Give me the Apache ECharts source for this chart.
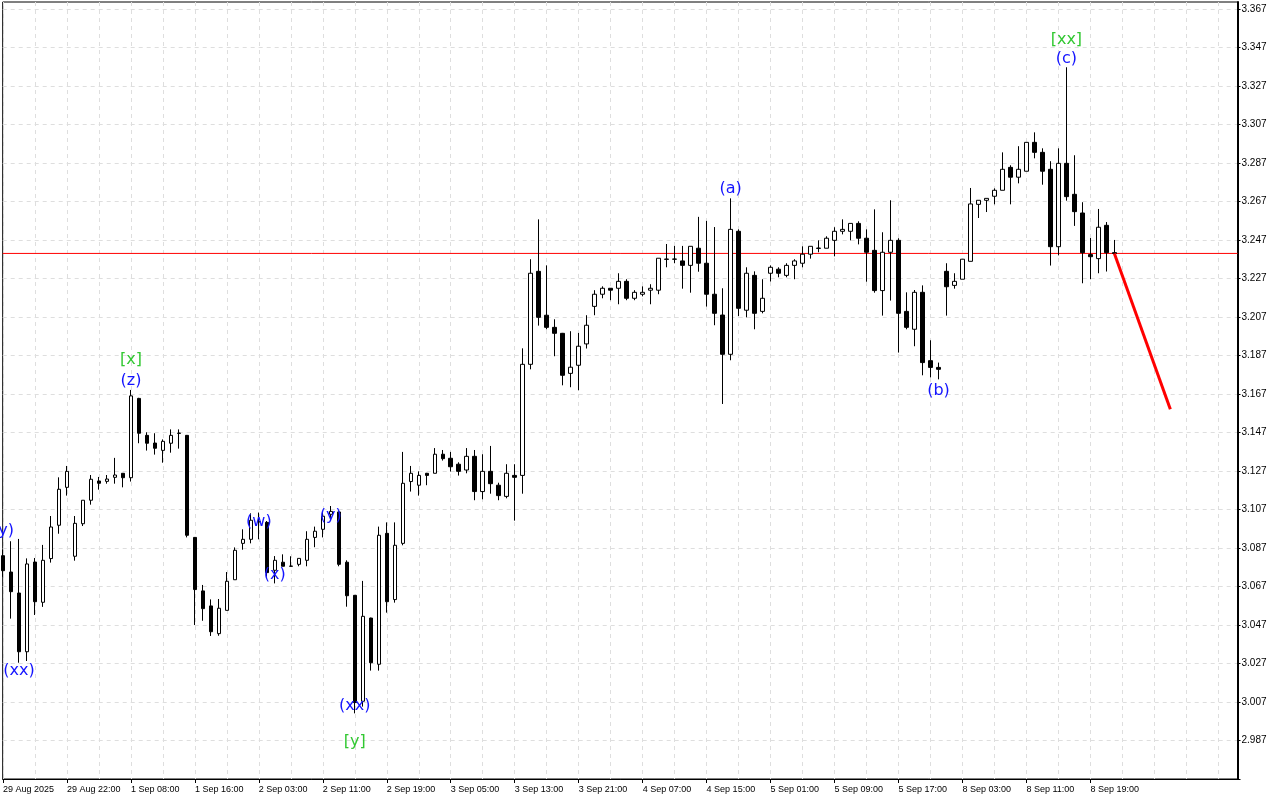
<!DOCTYPE html>
<html><head><meta charset="utf-8">
<script src="https://cdn.jsdelivr.net/npm/echarts@6/dist/echarts.min.js"></script>
<style>html,body{margin:0;padding:0;background:#fff}#c{width:1280px;height:800px}</style>
</head><body><div id="c"></div>
<script>
const openP = [3.0830,3.0745,3.0636,3.0331,3.0797,3.0588,3.0815,3.0988,3.1185,3.0827,
3.0996,3.1118,3.1218,3.1216,3.1237,3.1258,3.1235,3.1647,3.1455,3.1415,
3.1377,3.1414,3.1465,3.1455,3.0925,3.0647,3.0569,3.0425,3.0546,3.0705,
3.0894,3.0915,3.1005,3.1003,3.0754,3.0796,3.0776,3.0785,3.0806,3.0925,
3.0967,3.1045,3.1057,3.0796,3.0624,3.0074,3.0506,3.0266,3.0946,3.0602,
3.0894,3.1215,3.1196,3.1258,3.1258,3.1357,3.1336,3.1305,3.1275,3.1346,
3.1163,3.1268,3.1196,3.1138,3.1247,3.1247,3.1824,3.2307,3.2079,3.2016,
3.1985,3.1777,3.1819,3.1930,3.2125,3.2188,3.2219,3.2219,3.2255,3.2167,
3.2188,3.2209,3.2209,3.2369,3.2371,3.2361,3.2338,3.2427,3.2349,3.2188,
3.2080,3.1876,3.2515,3.2105,3.2286,3.2099,3.2297,3.2318,3.2286,3.2338,
3.2349,3.2396,3.2426,3.2427,3.2468,3.2515,3.2515,3.2556,3.2479,3.2416,
3.2207,3.2406,3.2468,3.2099,3.2006,3.2198,3.1843,3.1808,3.2307,3.2234,
3.2266,3.2359,3.2655,3.2676,3.2697,3.2728,3.2847,3.2796,3.2827,3.2977,
3.2925,3.2837,3.2435,3.2868,3.2707,3.2610,3.2394,3.2373,3.2546,3.2404];
const highP = [3.0860,3.0905,3.0917,3.0816,3.0818,3.0886,3.1036,3.1237,3.1296,3.1036,
3.1118,3.1249,3.1239,3.1249,3.1338,3.1258,3.1691,3.1650,3.1471,3.1466,
3.1434,3.1486,3.1486,3.1457,3.0927,3.0678,3.0603,3.0605,3.0745,3.0873,
3.0967,3.1050,3.1054,3.1010,3.0828,3.0837,3.0827,3.0816,3.0957,3.0981,
3.1059,3.1088,3.1060,3.0806,3.0626,3.0699,3.0508,3.0981,3.1003,3.1003,
3.1369,3.1296,3.1268,3.1260,3.1389,3.1379,3.1369,3.1315,3.1389,3.1379,
3.1357,3.1400,3.1209,3.1305,3.1305,3.1907,3.2370,3.2577,3.2338,3.2058,
3.1987,3.1996,3.1987,3.2079,3.2209,3.2229,3.2220,3.2297,3.2266,3.2209,
3.2229,3.2240,3.2375,3.2449,3.2439,3.2439,3.2437,3.2590,3.2569,3.2537,
3.2219,3.2686,3.2525,3.2328,3.2307,3.2266,3.2338,3.2328,3.2349,3.2370,
3.2437,3.2437,3.2468,3.2489,3.2536,3.2577,3.2556,3.2567,3.2525,3.2629,
3.2510,3.2676,3.2479,3.2198,3.2210,3.2234,3.1949,3.1833,3.2349,3.2297,
3.2370,3.2740,3.2676,3.2686,3.2738,3.2925,3.2858,3.2957,3.2977,3.3029,
3.2946,3.2879,3.2946,3.3367,3.2910,3.2666,3.2480,3.2631,3.2563,3.2470];
const lowP = [3.0720,3.0503,3.0274,3.0283,3.0522,3.0564,3.0794,3.0944,3.1142,3.0804,
3.0984,3.1095,3.1173,3.1204,3.1204,3.1185,3.1215,3.1414,3.1376,3.1355,
3.1313,3.1365,3.1386,3.0925,3.0470,3.0492,3.0413,3.0414,3.0546,3.0705,
3.0861,3.0894,3.0915,3.0721,3.0686,3.0775,3.0774,3.0775,3.0775,3.0874,
3.0925,3.1020,3.0775,3.0565,3.0011,3.0046,3.0233,3.0233,3.0534,3.0586,
3.0884,3.1163,3.1142,3.1196,3.1258,3.1324,3.1267,3.1246,3.1258,3.1118,
3.1123,3.1152,3.1118,3.1128,3.1012,3.1152,3.1798,3.2025,3.2006,3.1866,
3.1715,3.1705,3.1689,3.1906,3.2079,3.2167,3.2157,3.2136,3.2157,3.2157,
3.2177,3.2136,3.2188,3.2328,3.2349,3.2217,3.2196,3.2305,3.2124,3.2027,
3.1618,3.1845,3.2075,3.2068,3.2006,3.2089,3.2254,3.2276,3.2276,3.2266,
3.2328,3.2373,3.2406,3.2427,3.2385,3.2499,3.2468,3.2447,3.2253,3.2196,
3.2077,3.2155,3.1885,3.2006,3.1918,3.1767,3.1756,3.1746,3.2077,3.2217,
3.2266,3.2359,3.2584,3.2615,3.2655,3.2728,3.2655,3.2764,3.2827,3.2894,
3.2757,3.2337,3.2390,3.2674,3.2543,3.2245,3.2266,3.2297,3.2306,3.2395];
const closeP = [3.0752,3.0643,3.0331,3.0787,3.0591,3.0806,3.0979,3.1175,3.1268,3.0998,
3.1118,3.1227,3.1206,3.1228,3.1249,3.1235,3.1660,3.1466,3.1414,3.1388,
3.1424,3.1455,3.1467,3.0936,3.0654,3.0555,3.0435,3.0557,3.0697,3.0858,
3.0915,3.1014,3.1008,3.0742,3.0806,3.0775,3.0775,3.0816,3.0915,3.0957,
3.1035,3.1060,3.0785,3.0622,3.0067,3.0515,3.0274,3.0936,3.0591,3.0884,
3.1206,3.1258,3.1247,3.1247,3.1357,3.1334,3.1292,3.1268,3.1346,3.1163,
3.1268,3.1204,3.1142,3.1258,3.1237,3.1824,3.2297,3.2068,3.2016,3.1985,
3.1767,3.1809,3.1918,3.2027,3.2188,3.2219,3.2209,3.2255,3.2167,3.2198,
3.2198,3.2219,3.2375,3.2371,3.2370,3.2338,3.2437,3.2349,3.2188,3.2089,
3.1876,3.2525,3.2115,3.2297,3.2089,3.2167,3.2328,3.2297,3.2338,3.2361,
3.2396,3.2437,3.2428,3.2479,3.2515,3.2525,3.2556,3.2479,3.2406,3.2207,
3.2406,3.2468,3.2089,3.2016,3.2198,3.1833,3.1808,3.1798,3.2227,3.2255,
3.2370,3.2657,3.2676,3.2686,3.2728,3.2837,3.2796,3.2837,3.2977,3.2925,
3.2827,3.2435,3.2868,3.2695,3.2617,3.2404,3.2383,3.2536,3.2404,3.2400];

const timeTickIdx = [0,8,16,24,32,40,48,56,64,72,80,88,96,104,112,120,128,136];
const timeTickLabels = ['29 Aug 2025','29 Aug 22:00','1 Sep 08:00','1 Sep 16:00','2 Sep 03:00','2 Sep 11:00','2 Sep 19:00','3 Sep 05:00','3 Sep 13:00','3 Sep 21:00','4 Sep 07:00','4 Sep 15:00','5 Sep 01:00','5 Sep 09:00','5 Sep 17:00','8 Sep 03:00','8 Sep 11:00','8 Sep 19:00'];
const timeGridIdx = [0,4,8,12,16,20,24,28,32,36,40,44,48,52,56,60,64,68,72,76,80,84,88,92,96,100,104,108,112,116,120,124,128,132,136,140,144,148,152];
const priceLabels = [2.987,3.007,3.027,3.047,3.067,3.087,3.107,3.127,3.147,3.167,3.187,3.207,3.227,3.247,3.267,3.287,3.307,3.327,3.347,3.367];
const priceGrid = [2.967,2.987,3.007,3.027,3.047,3.067,3.087,3.107,3.127,3.147,3.167,3.187,3.207,3.227,3.247,3.267,3.287,3.307,3.327,3.347,3.367];
const lastPrice = 3.240;
const forecastIdx = [139, 146];
const forecastPrice = [3.240, 3.159];

const waveText  = ['(y)','(xx)','[x]','(z)','(w)','(x)','(y)','(xx)','[y]','(a)','(b)','[xx]','(c)'];
const waveIdx   = [0, 2, 16, 16, 32, 34, 41, 44, 44, 91, 117, 133, 133];
const wavePrice = [3.0958,3.0231,3.1847,3.1738,3.1005,3.0730,3.1036,3.0049,2.9862,3.2735,3.1686,3.3509,3.3410];
const waveDegree = ['minor','minor','major','minor','minor','minor','minor','minor','major','minor','minor','major','minor'];

const degreeColor = {minor:'#1414ff', major:'#32c832'};
const candleData = openP.map((o,i)=>[i, o, closeP[i], lowP[i], highP[i]]);
const waveData = waveText.map((t,i)=>({value:[waveIdx[i], wavePrice[i]], name:t,
  label:{color:degreeColor[waveDegree[i]]}}));
const forecastData = forecastIdx.map((x,i)=>[x, forecastPrice[i]]);

const X_MIN = -0.0375, X_MAX = 154.4;
const priceLineData = [[X_MIN, lastPrice], [X_MAX, lastPrice]];
const chart = echarts.init(document.getElementById('c'), null, {renderer:'canvas'});
chart.setOption({
  animation:false,
  backgroundColor:'#ffffff',
  grid:{left:2, right:42.5, top:2, bottom:21, show:true, borderColor:'#000', borderWidth:1, backgroundColor:'#fff'},
  xAxis:[{
    type:'value', min:X_MIN, max:X_MAX,
    axisLine:{show:true, onZero:false, lineStyle:{color:'#000', width:1}},
    axisTick:{show:true, customValues:timeTickIdx, length:4, lineStyle:{color:'#000'}},
    axisLabel:{customValues:timeTickIdx, align:'left', margin:6, fontSize:9, fontFamily:'Liberation Sans', color:'#000',
      formatter:v=>{const k=timeTickIdx.indexOf(Math.round(v)); return k>=0?timeTickLabels[k]:'';}},
    splitLine:{show:false}
  },{
    type:'value', min:X_MIN, max:X_MAX, position:'bottom',
    axisLine:{show:false}, axisLabel:{show:false},
    axisTick:{show:false, customValues:timeGridIdx},
    splitLine:{show:true, lineStyle:{color:'#dedede', type:[4,4], width:1}}
  }],
  yAxis:{
    type:'value', position:'right', min:2.967, max:3.3706, scale:true,
    axisLine:{show:true, onZero:false, lineStyle:{color:'#000', width:2}},
    axisTick:{show:true, customValues:priceGrid, length:3, lineStyle:{color:'#000'}},
    axisLabel:{customValues:priceLabels, margin:4, fontSize:10, fontFamily:'Liberation Sans', color:'#000',
      formatter:v=>v.toFixed(3)},
    splitLine:{show:true, lineStyle:{color:'#dedede', type:[4,4], width:1}}
  },
  series:[{
    type:'candlestick', xAxisIndex:0, data:candleData, encode:{x:0, y:[1,2,3,4]},
    barWidth:4, clip:true,
    itemStyle:{color:'#ffffff', color0:'#000000', borderColor:'#000000', borderColor0:'#000000', borderWidth:1}
  },{
    name:'price', type:'line', xAxisIndex:0, data:priceLineData, symbol:'none', z:1,
    lineStyle:{color:'#ff0000', width:1, type:'solid'}, itemStyle:{color:'#ff0000'},
    emphasis:{disabled:true},
    markLine:{silent:true, symbol:['none','none'], animation:false,
      lineStyle:{color:'#ff0000', width:0, opacity:0},
      label:{show:true, position:'end', distance:1, formatter:p=>Number(p.value).toFixed(3),
        backgroundColor:'#d80000', color:'#fff', fontSize:10, fontFamily:'Liberation Sans', padding:[2,3,1,3]},
      data:[{yAxis:lastPrice}]}
  },{
    type:'line', xAxisIndex:0, data:forecastData, symbol:'none',
    lineStyle:{color:'#ff0000', width:3}, itemStyle:{color:'#ff0000'}, z:5
  },{
    type:'scatter', xAxisIndex:0, data:waveData, symbol:'circle', symbolSize:2,
    itemStyle:{color:'rgba(255,255,255,0)', opacity:1}, z:6,
    emphasis:{disabled:true},
    label:{show:true, position:'inside', formatter:p=>p.name, fontSize:16, fontFamily:'DejaVu Sans',
      opacity:1, textBorderWidth:0}
  }]
});
</script></body></html>
